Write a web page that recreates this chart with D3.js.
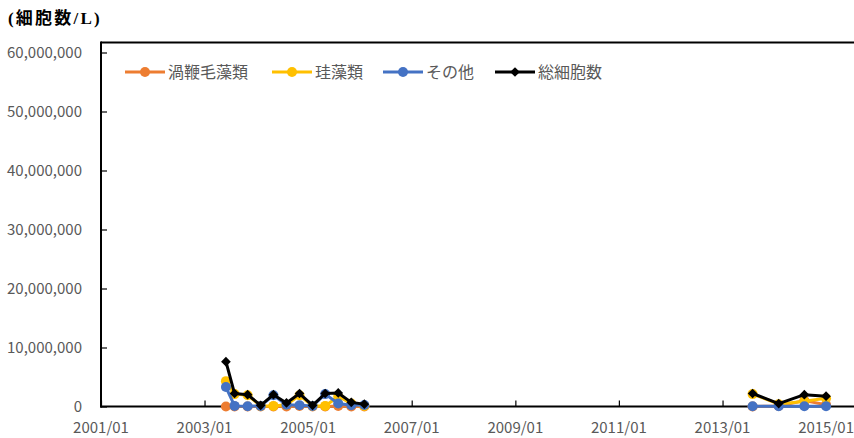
<!DOCTYPE html>
<html><head><meta charset="utf-8">
<script src="https://cdn.jsdelivr.net/npm/d3@7"></script>
<style>
html,body{margin:0;padding:0;background:#fff;}
svg{display:block;font-family:"Noto Sans CJK JP","Noto Sans",sans-serif;}
</style></head>
<body><svg id="c" width="854" height="438"></svg>
<script>
const dates = ["2003/06","2003/08","2003/11","2004/02","2004/05","2004/08","2004/11","2005/02","2005/05","2005/08","2005/11","2006/02",
               null,
               "2013/08","2014/02","2014/08","2015/01"];
const dinoflag = [0,0,0,0,0,0,0.1,0,0,0.1,0,0, null, 0,0.1,1.0,0.3];
const diatom   = [4.3,2.1,1.9,0.1,0.1,0.3,1.9,0.1,0.1,1.7,0.5,0.1, null, 2.1,0.4,0.9,1.4];
const others   = [3.3,0.1,0.05,0.1,1.9,0.3,0.2,0.1,2.1,0.5,0.2,0.25, null, 0.05,0.05,0.05,0.05];
const total    = [7.6,2.2,2.0,0.2,2.0,0.6,2.2,0.2,2.2,2.3,0.7,0.4, null, 2.2,0.5,2.0,1.75];
const seriesNames = ["渦鞭毛藻類","珪藻類","その他","総細胞数"];
const seriesColors = ["#ED7D31","#FFC000","#4472C4","#000000"];
const yTicks = [0,10000000,20000000,30000000,40000000,50000000,60000000];
const xTickLabels = ["2001/01","2003/01","2005/01","2007/01","2009/01","2011/01","2013/01","2015/01"];
const yTitle = "(細胞数/L)";

(function(){
const svg = d3.select("#c");
const parse = d3.timeParse("%Y/%m");
const pL = 101, pR = 853, pT = 42.5, pB = 406.5;
const x = d3.scaleTime().domain([parse("2001/01"), new Date(2015,6,10)]).range([pL, pR]);
const y = d3.scaleLinear().domain([0, 60000000]).range([pB, 52.5]);

svg.append("line").attr("x1",pL).attr("x2",854).attr("y1",pT).attr("y2",pT).attr("stroke","#000").attr("stroke-width",2);

const ya = svg.append("g").attr("transform",`translate(${pL},0)`)
  .call(d3.axisRight(y).tickValues(yTicks).tickSize(6).tickFormat(()=>""));
ya.select(".domain").remove();
ya.selectAll(".tick line").attr("stroke","#000").attr("stroke-width",1.2);
svg.append("line").attr("x1",pL).attr("x2",pL).attr("y1",pT-1).attr("y2",pB+1).attr("stroke","#000").attr("stroke-width",2);
svg.append("g").selectAll("text").data(yTicks).join("text")
  .attr("x",82).attr("y",d=>y(d)).attr("dy","0.35em").attr("text-anchor","end")
  .attr("fill","#595959").attr("font-size",15).text(d=>d3.format(",")(d));

const xTickDates = xTickLabels.map(parse);
const xa = svg.append("g").attr("transform",`translate(0,${pB})`)
  .call(d3.axisTop(x).tickValues(xTickDates).tickSize(6).tickFormat(()=>""));
xa.select(".domain").remove();
xa.selectAll(".tick line").attr("stroke","#000").attr("stroke-width",1.2);
svg.append("line").attr("x1",pL-1).attr("x2",854).attr("y1",pB).attr("y2",pB).attr("stroke","#000").attr("stroke-width",2);
svg.append("g").selectAll("text").data(xTickDates).join("text")
  .attr("x",d=>x(d)).attr("y",433).attr("text-anchor","middle")
  .attr("fill","#595959").attr("font-size",15).text((d,i)=>xTickLabels[i]);

svg.append("text").attr("x",8).attr("y",24).attr("font-size",17).attr("fill","#000")
  .attr("letter-spacing",2.2)
  .attr("font-family","'Liberation Serif','Noto Sans CJK JP',serif").attr("font-weight","600").text(yTitle);

const allSeries = [dinoflag, diatom, others, total];
const line = d3.line().defined(d=>d.v!=null).x(d=>x(d.d)).y(d=>y(d.v*1e6));
allSeries.forEach((vals,si)=>{
  const pts = vals.map((v,i)=>({d: dates[i]?parse(dates[i]):null, v: v}));
  const g = svg.append("g");
  g.append("path").datum(pts).attr("d",line).attr("fill","none")
    .attr("stroke",seriesColors[si]).attr("stroke-width",3).attr("stroke-linejoin","round");
  const valid = pts.filter(p=>p.v!=null);
  if(si<3){
    g.selectAll("circle").data(valid).join("circle")
      .attr("cx",p=>x(p.d)).attr("cy",p=>y(p.v*1e6)).attr("r",5).attr("fill",seriesColors[si]);
  } else {
    g.selectAll("path.m").data(valid).join("path").attr("class","m")
      .attr("d",d3.symbol(d3.symbolDiamond2,60)())
      .attr("transform",p=>`translate(${x(p.d)},${y(p.v*1e6)})`).attr("fill","#000");
  }
});

const legX = [125, 272, 383, 495];
const lg = svg.append("g");
seriesNames.forEach((n,i)=>{
  const g = lg.append("g").attr("transform",`translate(${legX[i]},72)`);
  g.append("line").attr("x1",0).attr("x2",40).attr("stroke",seriesColors[i]).attr("stroke-width",3);
  if(i<3) g.append("circle").attr("cx",20).attr("r",5).attr("fill",seriesColors[i]);
  else g.append("path").attr("d",d3.symbol(d3.symbolDiamond2,60)()).attr("transform","translate(20,0)").attr("fill","#000");
  g.append("text").attr("x",43).attr("dy","0.35em").attr("font-size",16).attr("fill","#595959").text(n);
});
})();
</script></body></html>
